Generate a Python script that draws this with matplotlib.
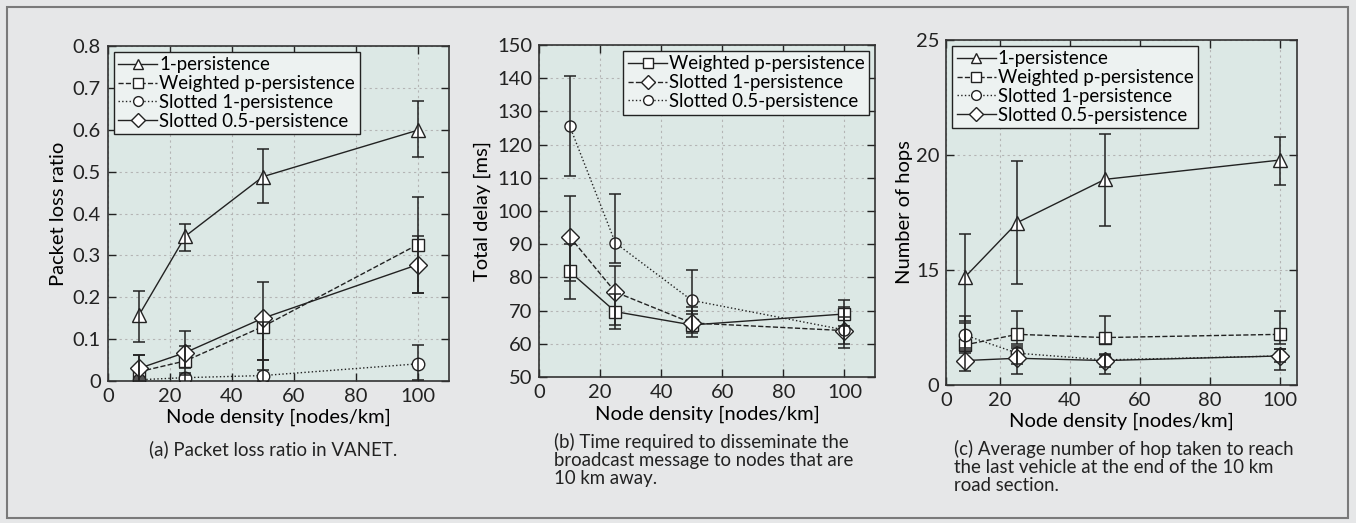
import numpy as np
import matplotlib
matplotlib.use('Agg')
import matplotlib.pyplot as plt
from matplotlib.patches import Rectangle
from matplotlib.lines import Line2D

plt.rcParams['font.family'] = ['Lato', 'DejaVu Sans']
plt.rcParams['font.size'] = 12

x = np.array([10, 25, 50, 100])

# (a) packet loss ratio
a_one = np.array([0.157, 0.346, 0.488, 0.599])
a_one_lo = np.array([0.092, 0.311, 0.424, 0.535])
a_one_hi = np.array([0.215, 0.376, 0.553, 0.668])
a_wp = np.array([0.022, 0.048, 0.130, 0.326])
a_wp_lo = np.array([0.000, 0.015, 0.026, 0.210])
a_wp_hi = np.array([0.062, 0.084, 0.140, 0.440])
a_s1 = np.array([0.003, 0.008, 0.013, 0.041])
a_s1_lo = np.array([0.000, 0.000, 0.000, 0.002])
a_s1_hi = np.array([0.010, 0.020, 0.050, 0.085])
a_s05 = np.array([0.030, 0.068, 0.150, 0.278])
a_s05_lo = np.array([0.005, 0.030, 0.050, 0.210])
a_s05_hi = np.array([0.062, 0.120, 0.237, 0.346])

# (b) total delay [ms]
b_wp = np.array([81.8, 69.7, 65.7, 69.0])
b_wp_lo = np.array([73.6, 64.4, 62.2, 65.5])
b_wp_hi = np.array([90.0, 75.0, 70.0, 73.3])
b_s1 = np.array([92.3, 75.6, 66.3, 64.0])
b_s1_lo = np.array([78.8, 65.7, 63.2, 58.7])
b_s1_hi = np.array([104.6, 83.3, 71.0, 71.0])
b_s05 = np.array([125.7, 90.4, 73.1, 64.2])
b_s05_lo = np.array([110.5, 84.3, 69.0, 60.0])
b_s05_hi = np.array([140.7, 105.2, 82.1, 68.0])

# (c) number of hops
c_one = np.array([14.68, 17.06, 18.94, 19.78])
c_one_lo = np.array([12.8, 14.39, 16.9, 18.68])
c_one_hi = np.array([16.58, 19.72, 20.93, 20.8])
c_wp = np.array([11.74, 12.2, 12.06, 12.2])
c_wp_lo = np.array([11.4, 11.8, 11.8, 11.8])
c_wp_hi = np.array([12.7, 13.22, 13.0, 13.22])
c_s1 = np.array([12.17, 11.38, 11.09, 11.26])
c_s1_lo = np.array([11.6, 10.9, 10.8, 11.0])
c_s1_hi = np.array([13.0, 11.7, 11.3, 11.55])
c_s05 = np.array([11.06, 11.16, 11.06, 11.26])
c_s05_lo = np.array([10.62, 10.48, 10.48, 10.65])
c_s05_hi = np.array([11.5, 11.6, 11.35, 11.55])

LINE = '#222222'
AX_BG = '#dce8e5'
FIG_BG = '#e6e7e8'
TICK_FS = 14.5
LABEL_FS = 14.5
LEG_FS = 13.4
CAP_FS = 13.4


def series(ax, y, lo, hi, marker, ls, label, ms=9):
    ax.plot(x, y, color=LINE, linestyle=ls, linewidth=1.0, marker=marker,
            markersize=ms, markerfacecolor='white', markeredgecolor=LINE,
            markeredgewidth=1.0, zorder=3)
    ax.errorbar(x, y, yerr=[y - lo, hi - y], fmt='none', ecolor=LINE,
                elinewidth=1.1, capsize=4, capthick=1.1, zorder=4)
    return Line2D([], [], color=LINE, linestyle=ls, linewidth=1.0, marker=marker,
                  markersize=7, markerfacecolor='white', markeredgecolor=LINE,
                  label=label)


def style(ax):
    ax.set_facecolor(AX_BG)
    ax.grid(True, linestyle=(0, (2, 3)), color='#b4b4b4', linewidth=0.8)
    ax.set_axisbelow(True)
    ax.tick_params(direction='in', top=True, right=True, length=6, width=1,
                   labelsize=TICK_FS, colors='#222222', pad=5)
    for s in ax.spines.values():
        s.set_color('#333333')
        s.set_linewidth(1.2)


def legend(ax, handles, loc):
    leg = ax.legend(handles=handles, loc=loc, fontsize=LEG_FS, handlelength=2.1,
                    handletextpad=0.1, labelspacing=0.1, borderpad=0.25,
                    borderaxespad=0.3, fancybox=False, framealpha=1)
    leg.get_frame().set_edgecolor('#222222')
    leg.get_frame().set_facecolor('#edf2f1')
    leg.get_frame().set_linewidth(1.0)


fig = plt.figure(figsize=(13.56, 5.23), dpi=100, facecolor=FIG_BG)
fig.patches.append(Rectangle((0.005, 0.01), 0.989, 0.976, transform=fig.transFigure,
                             fill=False, edgecolor='#7a7a7a', linewidth=1.5))

# panel a
ax1 = fig.add_axes([0.0796, 0.2715, 0.2514, 0.6405])
style(ax1)
h = [series(ax1, a_one, a_one_lo, a_one_hi, '^', '-', '1-persistence', 10),
     series(ax1, a_wp, a_wp_lo, a_wp_hi, 's', '--', 'Weighted p-persistence'),
     series(ax1, a_s1, a_s1_lo, a_s1_hi, 'o', ':', 'Slotted 1-persistence'),
     series(ax1, a_s05, a_s05_lo, a_s05_hi, 'D', '-', 'Slotted 0.5-persistence')]
ax1.set_xlim(0, 110)
ax1.set_ylim(0, 0.8)
ax1.set_xticks([0, 20, 40, 60, 80, 100])
ax1.set_yticks(np.arange(0, 0.81, 0.1))
ax1.set_yticklabels(['0'] + ['%.1f' % v for v in np.arange(0.1, 0.81, 0.1)])
ax1.set_xlabel('Node density [nodes/km]', fontsize=LABEL_FS, labelpad=3)
ax1.set_ylabel('Packet loss ratio', fontsize=LABEL_FS, labelpad=4)
legend(ax1, h, 'upper left')

# panel b
ax2 = fig.add_axes([0.3975, 0.279, 0.2478, 0.635])
style(ax2)
h = [series(ax2, b_wp, b_wp_lo, b_wp_hi, 's', '-', 'Weighted p-persistence'),
     series(ax2, b_s1, b_s1_lo, b_s1_hi, 'D', '--', 'Slotted 1-persistence'),
     series(ax2, b_s05, b_s05_lo, b_s05_hi, 'o', ':', 'Slotted 0.5-persistence', 8)]
ax2.set_xlim(0, 110)
ax2.set_ylim(50, 150)
ax2.set_xticks([0, 20, 40, 60, 80, 100])
ax2.set_yticks(np.arange(50, 151, 10))
ax2.set_xlabel('Node density [nodes/km]', fontsize=LABEL_FS, labelpad=3)
ax2.set_ylabel('Total delay [ms]', fontsize=LABEL_FS, labelpad=4)
legend(ax2, h, 'upper right')

# panel c
ax3 = fig.add_axes([0.698, 0.264, 0.2585, 0.6595])
style(ax3)
h = [series(ax3, c_one, c_one_lo, c_one_hi, '^', '-', '1-persistence', 10),
     series(ax3, c_wp, c_wp_lo, c_wp_hi, 's', '--', 'Weighted p-persistence'),
     series(ax3, c_s1, c_s1_lo, c_s1_hi, 'o', ':', 'Slotted 1-persistence'),
     series(ax3, c_s05, c_s05_lo, c_s05_hi, 'D', '-', 'Slotted 0.5-persistence')]
ax3.set_xlim(4.8, 104.8)
ax3.set_ylim(10, 25)
ax3.set_xticks([4.8, 20, 40, 60, 80, 100])
ax3.set_xticklabels(['0', '20', '40', '60', '80', '100'])
ax3.set_yticks([10, 15, 20, 25])
ax3.set_yticklabels(['0', '15', '20', '25'])
ax3.set_xlabel('Node density [nodes/km]', fontsize=LABEL_FS, labelpad=3)
ax3.set_ylabel('Number of hops', fontsize=LABEL_FS, labelpad=2)
legend(ax3, h, 'upper left')

# captions
fig.text(0.2015, 1 - 449 / 523, '(a) Packet loss ratio in VANET.', ha='center',
         va='center', fontsize=CAP_FS, color='#222222')
fig.text(554 / 1356, 1 - 433 / 523,
         '(b) Time required to disseminate the\nbroadcast message to nodes that are\n10 km away.',
         ha='left', va='top', fontsize=CAP_FS, linespacing=1.08, color='#222222')
fig.text(954 / 1356, 1 - 440 / 523,
         '(c) Average number of hop taken to reach\nthe last vehicle at the end of the 10 km\nroad section.',
         ha='left', va='top', fontsize=CAP_FS, linespacing=1.08, color='#222222')

fig.savefig('out.png', dpi=100, facecolor=FIG_BG)
